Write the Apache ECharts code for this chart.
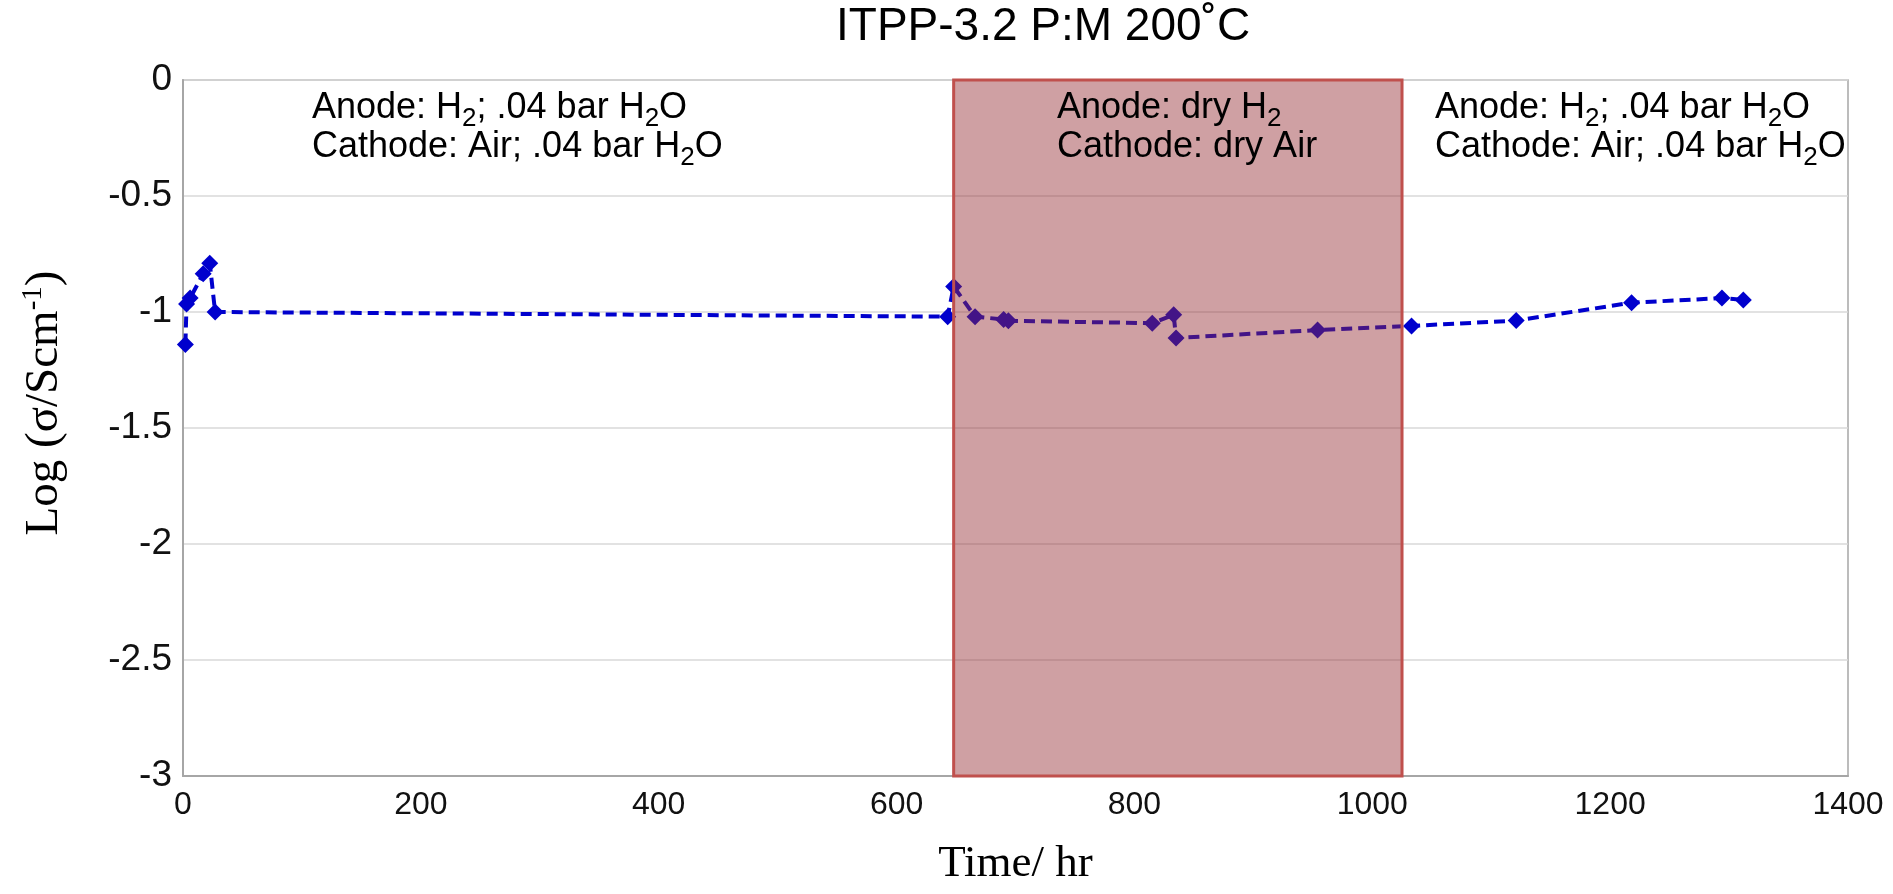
<!DOCTYPE html>
<html>
<head>
<meta charset="utf-8">
<script src="https://cdn.jsdelivr.net/npm/echarts@6/dist/echarts.min.js"></script>
<style>
html,body{margin:0;padding:0;background:#fff;}
#chart{width:1893px;height:894px;}
</style>
</head>
<body>
<div id="chart"></div>
<script>
// ---- data ----
const timeHr = [2, 3, 6, 17, 22.5, 27, 643, 648, 666, 690, 694, 815, 833, 835, 954, 1033, 1121, 1218, 1294, 1312];
const logSigma = [-1.14, -0.965, -0.94, -0.835, -0.79, -1.0, -1.02, -0.89, -1.02, -1.032, -1.038, -1.048, -1.012, -1.112, -1.078, -1.06, -1.037, -0.96, -0.94, -0.948];
const dryPeriod = [648, 1025];          // hours: dry gas window
const yRange = [-3, 0];
const xTicks = [0, 200, 400, 600, 800, 1000, 1200, 1400];
const titleText = 'ITPP-3.2 P:M 200˚C';

const points = timeHr.map((t, i) => [t, logSigma[i]]);

const chart = echarts.init(document.getElementById('chart'), null, {renderer: 'canvas'});

const sans = '"Liberation Sans", Arial, sans-serif';
const serif = '"Liberation Serif", "Times New Roman", serif';
const annoRich = {
  a: {fontSize: 36, fontFamily: sans, lineHeight: 39, fill: '#000', color: '#000'},
  s: {fontSize: 26, fontFamily: sans, lineHeight: 10, padding: [22, 0, 0, 0], fill: '#000', color: '#000'}
};

function annotation(x, y, text) {
  return {
    type: 'text', left: x, top: y, z: 100, silent: true,
    style: {text: text, rich: annoRich, fill: '#000', font: '36px ' + sans}
  };
}

const option = {
  backgroundColor: '#fff',
  animation: false,
  grid: {left: 183, right: 45, top: 80, bottom: 118, show: true, borderColor: '#a6a6a6', borderWidth: 1.5, backgroundColor: 'transparent'},
  xAxis: {
    type: 'value', min: xTicks[0], max: xTicks[xTicks.length - 1], interval: 200,
    name: 'Time/ hr', nameLocation: 'middle', nameGap: 66,
    nameTextStyle: {fontFamily: serif, fontSize: 45, color: '#000'},
    axisLine: {show: true, onZero: false, lineStyle: {color: '#a6a6a6', width: 2}},
    axisTick: {show: false},
    axisLabel: {fontFamily: sans, fontSize: 32, color: '#111', margin: 13, formatter: v => String(v)},
    splitLine: {show: false}
  },
  yAxis: {
    type: 'value', min: yRange[0], max: yRange[1], interval: 0.5,
    name: '{a|Log (σ/Scm}{sup|-1}{a|)}', nameLocation: 'middle', nameGap: 112, nameRotate: 90,
    nameTextStyle: {
      fontFamily: serif, fontSize: 47, color: '#000',
      padding: [0, 0, 0, 50],
      rich: {
        a: {fontFamily: serif, fontSize: 47, color: '#000', lineHeight: 52},
        sup: {fontFamily: serif, fontSize: 29, color: '#000', lineHeight: 22, verticalAlign: 'top'}
      }
    },
    axisLine: {show: true, lineStyle: {color: '#a6a6a6', width: 2}},
    axisTick: {show: false},
    axisLabel: {fontFamily: sans, fontSize: 37, color: '#111', margin: 11, formatter: v => String(v)},
    splitLine: {show: true, lineStyle: {color: '#d9d9d9', width: 1.5}}
  },
  series: [
    {
      type: 'line', data: points, z: 2,
      symbol: 'diamond', symbolSize: 17,
      itemStyle: {color: '#0000cd'},
      lineStyle: {color: '#0000cd', width: 4, type: [11, 6]}
    },
    {
      type: 'line', data: [], z: 10,
      markArea: {
        z: 10, silent: true,
        itemStyle: {color: 'rgba(149,44,51,0.45)', borderColor: '#c0504d', borderWidth: 3},
        data: [[{xAxis: dryPeriod[0], yAxis: yRange[1]}, {xAxis: dryPeriod[1], yAxis: yRange[0]}]]
      }
    }
  ],
  graphic: [
    {type: 'text', left: 1043 - 207, top: 4, z: 100, silent: true,
     style: {text: titleText, font: '46px ' + sans, fill: '#000'}},
    annotation(312, 84, '{a|Anode: H}{s|2}{a|; .04 bar H}{s|2}{a|O}\n{a|Cathode: Air; .04 bar H}{s|2}{a|O}'),
    annotation(1057, 84, '{a|Anode: dry H}{s|2}\n{a|Cathode: dry Air}'),
    annotation(1435, 84, '{a|Anode: H}{s|2}{a|; .04 bar H}{s|2}{a|O}\n{a|Cathode: Air; .04 bar H}{s|2}{a|O}')
  ]
};
chart.setOption(option);
</script>
</body>
</html>
